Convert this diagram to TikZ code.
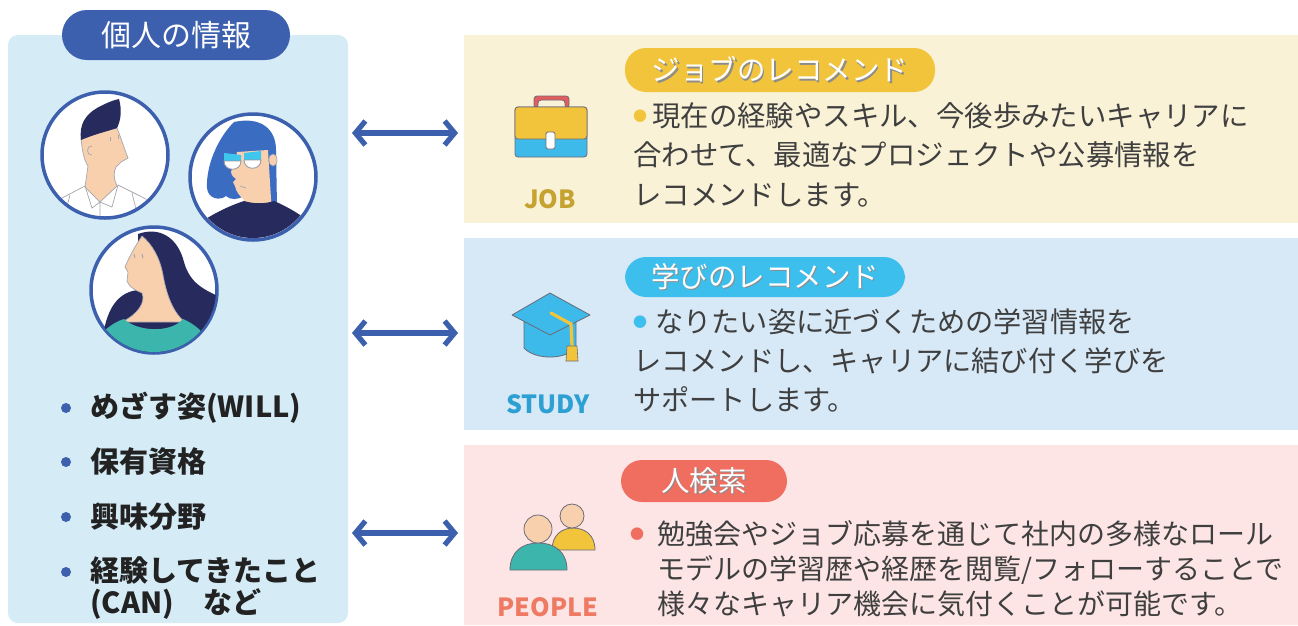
\documentclass[tikz,border=0pt]{standalone}
\usepackage{fontspec}
\setmainfont{Noto Sans CJK JP}
\usetikzlibrary{arrows.meta}

\definecolor{navy}{HTML}{3C5FAE}
\definecolor{panelblue}{HTML}{D5ECF7}
\definecolor{jobbg}{HTML}{FAF2D7}
\definecolor{jobpill}{HTML}{F2C43C}
\definecolor{jobtag}{HTML}{C6A331}
\definecolor{studybg}{HTML}{D7E8F6}
\definecolor{studypill}{HTML}{3CBFEC}
\definecolor{studytag}{HTML}{2C9FD3}
\definecolor{peoplebg}{HTML}{FDE5E5}
\definecolor{peoplepill}{HTML}{EF6E60}
\definecolor{peopletag}{HTML}{EF7A64}
\definecolor{bodytext}{HTML}{3F3F3F}
\definecolor{itemtext}{HTML}{222222}
\definecolor{skin}{HTML}{F8D0AE}
\definecolor{darkhair}{HTML}{272A5C}
\definecolor{bluehair}{HTML}{3A6CC2}
\definecolor{shirtteal}{HTML}{3CB6AC}
\definecolor{glasscyan}{HTML}{3EC6EF}
\definecolor{iconline}{HTML}{6B6B78}
\definecolor{handlered}{HTML}{E35D5D}
\definecolor{capblue}{HTML}{3DB9EA}

% small coloured bullet in front of a text line
\newcommand\dotmark[1]{\raisebox{4.5pt}{\textcolor{#1}{\fontsize{14}{14}\selectfont ●}}}
% pill label with a soft drop shadow
\newcommand\shadowtext[1]{\makebox[0pt][l]{\hspace{1.3pt}\raisebox{-1.3pt}{\textcolor{black!45}{#1}}}#1}

\tikzset{
  box/.style={inner sep=0pt, outer sep=0pt, anchor=north west},
  pill/.style={rounded corners=21pt, minimum height=42pt, inner sep=0pt, text=white,
    font=\fontsize{28.5}{30}\selectfont},
  body/.style={anchor=north west, inner sep=0pt, align=left, text=bodytext},
  tag/.style={inner sep=0pt, font=\bfseries\fontsize{25}{25}\selectfont},
  item/.style={anchor=west, inner sep=0pt, align=left, text=itemtext,
    font=\bfseries\fontsize{29}{32}\selectfont},
  link/.style={{Straight Barb[length=10pt,width=24pt]}-{Straight Barb[length=10pt,width=24pt]},
    line width=5.2pt, line cap=round, line join=round, navy},
  face/.style={circle, draw=navy, line width=3.5pt, fill=white, minimum size=126pt, inner sep=0pt},
  sketch/.style={draw=iconline!60, line width=0.7pt},
}

\begin{document}
\begin{tikzpicture}[x=1pt,y=-1pt]
\useasboundingbox[fill=white] (0,0) rectangle (1298,625);

% Left panel
\node[box, fill=panelblue, rounded corners=10pt, minimum width=340pt, minimum height=588pt] (panel) at (8,35) {};
\node[pill, fill=navy, minimum width=228pt, minimum height=50pt, rounded corners=25pt,
  font=\fontsize{30}{30}\selectfont] (title) at (176,35) {個人の情報};

% Right boxes
\node[box, fill=jobbg, minimum width=834pt, minimum height=188pt] (jobbox) at (464,35) {};
\node[box, fill=studybg, minimum width=834pt, minimum height=192pt] (studybox) at (464,238) {};
\node[box, fill=peoplebg, minimum width=834pt, minimum height=180pt] (peoplebox) at (464,445) {};

% Portraits
\node[face] (man) at (105,155) {};
\node[face] (glasses) at (253,177) {};
\node[face] (longhair) at (154,290) {};

\begin{scope}
  \clip (man.center) circle (61pt);
  \filldraw[fill=skin, sketch] (85,187) -- (88,166) .. controls (84,160) and (82,150) .. (81,138)
    -- (117,128) .. controls (121,138) and (124,148) .. (128,158) -- (121,162) -- (116,167)
    .. controls (113,172) and (114,180) .. (117,186) -- (100,202) -- cycle;
  \fill[darkhair] (81,140) .. controls (79,125) and (85,115) .. (97,108)
    .. controls (106,103) and (114,100) .. (119,99) .. controls (122,110) and (121,120) .. (117,128)
    .. controls (108,131) and (95,134) .. (81,140) -- cycle;
  \draw[sketch] (92,146) .. controls (86,145) and (86,156) .. (92,155);
  \draw[sketch, line width=1pt] (110,137) -- (110,141) (118,135) -- (118,139);
  \draw[sketch] (40,210) -- (62,198) -- (85,186) -- (92,208) -- (100,202) -- (112,207) -- (118,185)
    -- (140,196) -- (170,212) (100,202) -- (100,225) (70,195) -- (62,225) (132,193) -- (140,225);
\end{scope}

\begin{scope}
  \clip (glasses.center) circle (61pt);
  \fill[bluehair] (234,122) .. controls (262,116) and (276,130) .. (276,150) -- (277,206)
    -- (244,196) .. controls (238,200) and (230,200) .. (226,196)
    .. controls (220,201) and (208,199) .. (207,188) .. controls (206,165) and (218,138) .. (234,122) -- cycle;
  \fill[skin] (237,152) -- (268,150) -- (272,215) -- (244,215) -- (244,200)
    .. controls (240,196) and (236,192) .. (235,186) -- (233,182) -- (236,179)
    .. controls (232,176) and (231,174) .. (231,172) .. controls (234,165) and (236,158) .. (237,152) -- cycle;
  \filldraw[fill=skin, sketch] (273,160) ellipse (4pt and 6pt);
  \draw[sketch] (240,186) -- (246,188);
  \fill[glasscyan] (224,153) -- (241,155) -- (241,161) -- (224,161) -- cycle;
  \fill[glasscyan] (244,153) -- (261,151) -- (261,160) -- (244,160) -- cycle;
  \filldraw[fill=white, draw=iconline!70, line width=0.8pt] (224,161) .. controls (224,172) and (241,172) .. (241,161) -- cycle;
  \filldraw[fill=white, draw=iconline!70, line width=0.8pt] (244,160) .. controls (244,171) and (261,171) .. (261,160) -- cycle;
  \fill[darkhair] (195,226) .. controls (215,212) and (232,205) .. (244,201)
    .. controls (254,204) and (265,204) .. (274,201) .. controls (288,207) and (300,214) .. (315,226)
    -- (315,250) -- (195,250) -- cycle;
\end{scope}

\begin{scope}
  \clip (longhair.center) circle (62pt);
  \fill[darkhair] (138,234) .. controls (160,226) and (178,238) .. (184,262)
    .. controls (190,284) and (205,290) .. (222,298) -- (222,360) -- (98,360) -- (104,330)
    .. controls (109,305) and (120,292) .. (138,290) -- cycle;
  \filldraw[fill=skin, sketch] (142,236) .. controls (136,245) and (130,255) .. (125,267) -- (128,272)
    -- (127,281) .. controls (129,287) and (135,290) .. (142,293)
    .. controls (146,302) and (138,314) .. (122,322) -- (185,322)
    .. controls (172,312) and (166,292) .. (163,275) .. controls (160,258) and (152,244) .. (142,236) -- cycle;
  \draw[sketch, line width=1pt] (134,254) -- (135,258) (142,254) -- (143,258);
  \fill[shirtteal] (104,331) .. controls (111,325) and (117,321) .. (124,319)
    .. controls (136,331) and (170,334) .. (183,319) .. controls (190,322) and (196,326) .. (202,332)
    -- (216,360) -- (94,360) -- cycle;
\end{scope}

% Items
\foreach \y in {408,462,517,572}
  \fill[navy] (66,\y) circle (5pt);
\node[item] (will) at (90,408) {めざす姿(WILL)};
\node[item] (license) at (90,462) {保有資格};
\node[item] (interest) at (90,517) {興味分野};
\node[item] (career) at (90,588) {経験してきたこと\\(CAN)　など};

% Arrows
\draw[link, shorten <=4pt, shorten >=6pt] ([yshift=-4pt]panel.east |- jobbox.west) -- ([yshift=-4pt]jobbox.west);
\draw[link, shorten <=4pt, shorten >=6pt] ([yshift=1pt]panel.east |- studybox.west) -- ([yshift=1pt]studybox.west);
\draw[link, shorten <=4pt, shorten >=6pt] ([yshift=2pt]panel.east |- peoplebox.west) -- ([yshift=2pt]peoplebox.west);

% Job icon
\filldraw[fill=handlered, draw=iconline, line width=0.8pt, rounded corners=3pt] (534,108) -- (534,96)
  -- (569,96) -- (569,108) -- (565,108) -- (565,100) -- (538,100) -- (538,108) -- cycle;
\filldraw[fill=capblue, draw=iconline, line width=0.8pt, rounded corners=3pt] (515,107) rectangle (587,157);
\filldraw[fill=jobpill, draw=iconline, line width=0.8pt, rounded corners=3pt] (515,107) rectangle (587,139);
\filldraw[fill=white, draw=iconline, line width=0.8pt, rounded corners=1.5pt] (546,132) rectangle (555,149);
\node[tag, text=jobtag] (jobtag) at (550,199) {JOB};

% Study icon
\filldraw[fill=capblue, draw=iconline, line width=0.8pt] (524,322) -- (524,348)
  .. controls (535,360) and (565,360) .. (576,348) -- (576,322) -- cycle;
\filldraw[fill=capblue, draw=iconline, line width=0.8pt, line join=round] (512,315) -- (550,293) -- (590,315) -- (550,335) -- cycle;
\draw[jobpill, line width=3.2pt, line cap=round] (551,313) -- (571,324) -- (572,346);
\filldraw[fill=jobpill, draw=iconline, line width=0.6pt] (567,346) -- (577,346) -- (578,361) -- (566,361) -- cycle;
\node[tag, text=studytag] (studytag) at (548,404) {STUDY};

% People icon
\filldraw[fill=jobpill, draw=iconline, line width=0.8pt] (552,550) .. controls (552,535) and (562,528) .. (573,528)
  .. controls (585,528) and (595,535) .. (595,550) -- cycle;
\filldraw[fill=skin, draw=iconline, line width=0.8pt] (572,516) circle (12pt);
\filldraw[fill=shirtteal, draw=iconline, line width=0.8pt] (510,570) .. controls (510,552) and (522,543) .. (538,543)
  .. controls (555,543) and (567,552) .. (567,570) -- cycle;
\filldraw[fill=skin, draw=iconline, line width=0.8pt] (538,529) circle (14pt);
\node[tag, text=peopletag] (peopletag) at (548,607) {PEOPLE};

% Pills
\node[pill, fill=jobpill, minimum width=310pt, minimum height=44pt] (jobpill) at (780,70) {\shadowtext{ジョブのレコメンド}};
\node[pill, fill=studypill, minimum width=280pt, minimum height=40pt] (studypill) at (765,277) {\shadowtext{学びのレコメンド}};
\node[pill, fill=peoplepill, minimum width=166pt] (peoplepill) at (704,481) {\shadowtext{人検索}};

% Descriptions
\node[body, font=\fontsize{28.4}{39.5}\selectfont] (jobtext) at (633,102)
  {\dotmark{jobpill}\hspace{5pt}現在の経験やスキル、今後歩みたいキャリアに\\合わせて、最適なプロジェクトや公募情報を\\レコメンドします。};
\node[body, font=\fontsize{28.2}{39}\selectfont] (studytext) at (633,308)
  {\dotmark{studypill}\hspace{8pt}なりたい姿に近づくための学習情報を\\レコメンドし、キャリアに結び付く学びを\\サポートします。};
\node[body, font=\fontsize{28}{35}\selectfont] (peopletext) at (657,520)
  {\makebox[0pt][r]{\dotmark{peoplepill}\hspace{13pt}}勉強会やジョブ応募を通じて社内の多様なロール\\モデルの学習歴や経歴を閲覧/フォローすることで\\様々なキャリア機会に気付くことが可能です。};
\end{tikzpicture}
\end{document}
